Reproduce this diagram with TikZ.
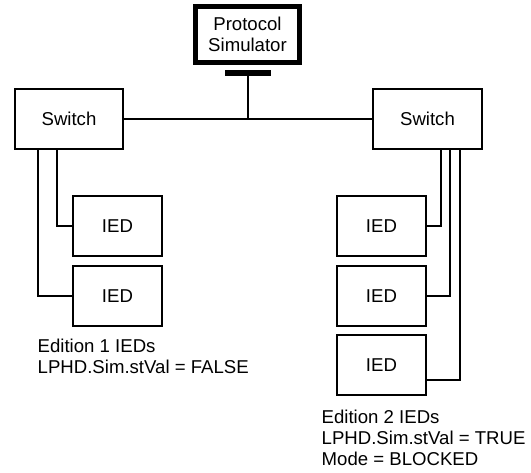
\documentclass[tikz,border=0pt]{standalone}
\usepackage{fontspec}
\setmainfont{Liberation Sans}
\begin{document}
\begin{tikzpicture}[x=1pt,y=-1pt,
  every node/.style={font=\fontsize{18.6}{21}\selectfont},
  box/.style={draw,line width=2.2pt,rectangle,inner sep=0pt,minimum height=60pt},
  swbox/.style={box,minimum width=108pt},
  iedbox/.style={box,minimum width=89pt},
  simbox/.style={draw,line width=5pt,rectangle,inner sep=0pt,align=center,
    minimum width=104pt,minimum height=56pt},
  link/.style={line width=2pt},
  caption/.style={align=left,anchor=north west,inner sep=0pt}]
\useasboundingbox (0,0) rectangle (531,473);

% protocol simulator and its connector bar
\node[simbox] (sim) at (247.5,34.5) {Protocol\\Simulator};
\node[fill=black,inner sep=0pt,minimum width=46pt,minimum height=6pt] (bar) at (248,73) {};

% switches
\node[swbox] (lsw) at (69,119) {Switch};
\node[swbox,minimum width=109pt] (rsw) at (427.5,119) {Switch};

% edition 1 IEDs
\node[iedbox] (lied1) at (117.5,226) {IED};
\node[iedbox] (lied2) at (117.5,296) {IED};

% edition 2 IEDs
\node[iedbox] (ried1) at (381.5,226) {IED};
\node[iedbox] (ried2) at (381.5,296) {IED};
\node[iedbox] (ried3) at (381.5,365) {IED};

% network backbone
\draw[link] (lsw.east) -- (rsw.west);
\draw[link] (bar.south) -- (bar.south |- lsw.east);

% switch to IED links
\draw[link] ([xshift=-12pt]lsw.south) |- (lied1.west);
\draw[link] ([xshift=-31pt]lsw.south) |- (lied2.west);
\coordinate (r3in) at ([yshift=-15pt]ried3.east);
\draw[link] ([xshift=13.5pt]rsw.south) |- (ried1.east);
\draw[link] ([xshift=22.5pt]rsw.south) |- (ried2.east);
\draw[link] ([xshift=32.5pt]rsw.south) |- (r3in);

% captions
\node[caption] (cap1) at (37.5,338.5) {Edition 1 IEDs\\LPHD.Sim.stVal = FALSE};
\node[caption] (cap2) at (321.5,409.5) {Edition 2 IEDs\\LPHD.Sim.stVal = TRUE\\Mode = BLOCKED};
\end{tikzpicture}
\end{document}
